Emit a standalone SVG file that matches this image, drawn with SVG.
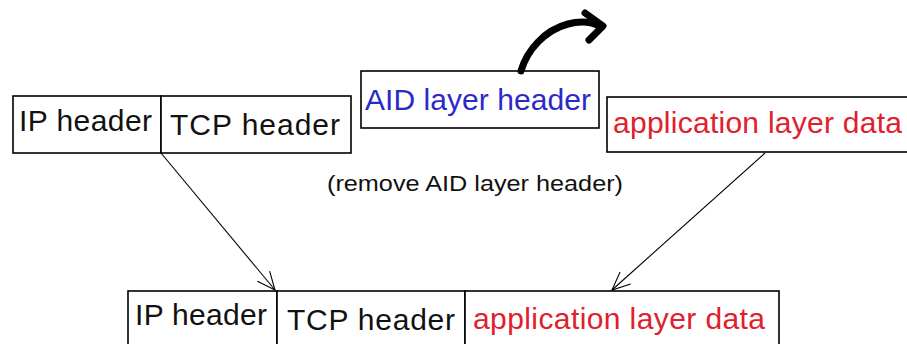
<svg xmlns="http://www.w3.org/2000/svg" width="907" height="344" viewBox="0 0 907 344">
<style>
.box{fill:#fff;stroke:#000;stroke-width:1.6}
.t{font-family:"Liberation Sans",Arial,sans-serif;font-size:30px;fill:#111}
.blue{fill:#2a2ac8}
.red{fill:#e0202c}
.small{font-size:22px}
.conn{stroke:#000;stroke-width:1.1;fill:none}
</style>
<defs>
<marker id="v" markerWidth="24" markerHeight="24" refX="20" refY="10" orient="auto" markerUnits="userSpaceOnUse">
<path d="M2,2 L20,10 L2,18" fill="none" stroke="#000" stroke-width="1.1"/>
</marker>
</defs>
<rect width="907" height="344" fill="#fff"/>
<g id="top-ip">
<rect class="box" x="13" y="96" width="148" height="57"/>
<text class="t" x="19" y="131" font-size="33" textLength="133">IP header</text>
</g>
<g id="top-tcp">
<rect class="box" x="161" y="96" width="190" height="57"/>
<text class="t" x="170" y="135" textLength="170">TCP  header</text>
</g>
<g id="aid">
<rect class="box" x="361" y="71" width="238" height="57"/>
<text class="t blue" x="365" y="110" textLength="226">AID layer header</text>
</g>
<g id="top-app">
<rect class="box" x="607" y="97" width="310" height="55"/>
<text class="t red" x="613" y="133" textLength="289">application layer data</text>
</g>
<g id="remove-label">
<text class="t small" x="327" y="191" textLength="296" lengthAdjust="spacingAndGlyphs">(remove AID layer header)</text>
</g>
<g id="bottom-ip">
<rect class="box" x="128" y="291" width="149" height="60"/>
<text class="t" x="135" y="325" textLength="132">IP header</text>
</g>
<g id="bottom-tcp">
<rect class="box" x="277" y="291" width="188" height="60"/>
<text class="t" x="287" y="330" textLength="168">TCP  header</text>
</g>
<g id="bottom-app">
<rect class="box" x="465" y="291" width="314" height="60"/>
<text class="t red" x="473" y="329" textLength="292">application layer data</text>
</g>
<g id="connectors">
<line class="conn" x1="161" y1="153" x2="275" y2="290" marker-end="url(#v)"/>
<line class="conn" x1="765" y1="153" x2="612" y2="290" marker-end="url(#v)"/>
<path d="M521,71 C527,50 545,30 568,24 C583,20 594,23 601,27" fill="none" stroke="#000" stroke-width="7" stroke-linecap="round"/>
<path d="M585,13 L603,26 L589,40" fill="none" stroke="#000" stroke-width="7" stroke-linecap="round" stroke-linejoin="round"/>
</g>
</svg>
